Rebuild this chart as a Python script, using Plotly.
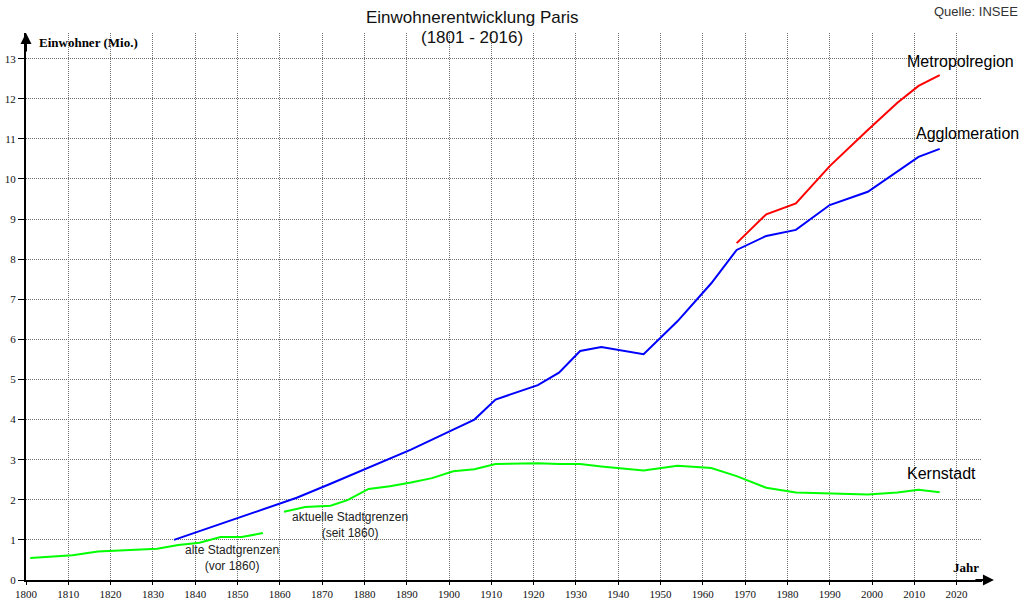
import plotly.graph_objects as go

# Kernstadt (alte Stadtgrenzen, vor 1860)
k_old_years = [1801, 1806, 1811, 1817, 1821, 1826, 1831, 1836, 1841, 1846, 1851, 1856]
k_old_vals = [0.55, 0.58, 0.62, 0.71, 0.73, 0.76, 0.78, 0.87, 0.93, 1.07, 1.07, 1.17]

# Kernstadt (aktuelle Stadtgrenzen, seit 1860)
k_new_years = [1861, 1866, 1872, 1876, 1881, 1886, 1891, 1896, 1901, 1906, 1911, 1921,
               1926, 1931, 1936, 1946, 1954, 1962, 1968, 1975, 1982, 1990, 1999, 2006,
               2011, 2016]
k_new_vals = [1.70, 1.82, 1.85, 1.99, 2.27, 2.34, 2.43, 2.54, 2.71, 2.76, 2.89, 2.91,
              2.89, 2.89, 2.83, 2.73, 2.85, 2.79, 2.59, 2.30, 2.18, 2.15, 2.13, 2.18,
              2.25, 2.19]

# Agglomeration
a_years = [1835, 1851, 1864, 1872, 1881, 1891, 1901, 1906, 1911, 1921, 1926, 1931, 1936,
           1946, 1954, 1962, 1968, 1975, 1982, 1990, 1999, 2006, 2011, 2016]
a_vals = [1.00, 1.57, 2.05, 2.40, 2.80, 3.25, 3.75, 4.00, 4.50, 4.86, 5.17, 5.71, 5.81,
          5.63, 6.45, 7.40, 8.23, 8.58, 8.73, 9.35, 9.68, 10.20, 10.55, 10.75]

# Metropolregion
m_years = [1968, 1975, 1982, 1990, 1999, 2006, 2011, 2016]
m_vals = [8.40, 9.12, 9.39, 10.32, 11.22, 11.90, 12.32, 12.59]

x_ticks = list(range(1800, 2021, 10))
y_ticks = list(range(0, 14))

fig = go.Figure()
for xs, ys, col, name in [
    (k_old_years, k_old_vals, "#00FF00", "Kernstadt (alt)"),
    (k_new_years, k_new_vals, "#00FF00", "Kernstadt"),
    (a_years, a_vals, "#0000FF", "Agglomeration"),
    (m_years, m_vals, "#FF0000", "Metropolregion"),
]:
    fig.add_trace(go.Scatter(x=xs, y=ys, mode="lines", name=name,
                             line=dict(color=col, width=2), hoverinfo="x+y"))

serif = "Liberation Serif, Times New Roman, serif"
sans = "Liberation Sans, Arial, sans-serif"

fig.update_layout(
    width=1024, height=613,
    margin=dict(l=26, r=42, t=33, b=33),
    paper_bgcolor="white", plot_bgcolor="white",
    showlegend=False,
    xaxis=dict(range=[1800, 2026], tickvals=x_ticks, ticktext=[str(v) for v in x_ticks],
               showgrid=True, gridcolor="#707070", griddash="1px,1px", gridwidth=1,
               showline=True, linecolor="black", linewidth=2,
               ticks="outside", ticklen=3, tickcolor="black",
               tickfont=dict(family=serif, size=11, color="#111"),
               zeroline=False, fixedrange=True, automargin=False),
    yaxis=dict(range=[0, 13.64], tickvals=y_ticks, ticktext=[str(v) for v in y_ticks],
               showgrid=True, gridcolor="#707070", griddash="1px,1px", gridwidth=1,
               showline=True, linecolor="black", linewidth=2,
               ticks="outside", ticklen=6, tickcolor="black",
               tickfont=dict(family=serif, size=11, color="#111"),
               zeroline=False, fixedrange=True, automargin=False),
)

ann = []
# axis arrows
ann.append(dict(xref="paper", yref="paper", x=1.0125, y=0, ax=-20, ay=0,
                showarrow=True, arrowhead=2, arrowsize=1.1, arrowwidth=2,
                arrowcolor="black", text=""))
ann.append(dict(xref="paper", yref="paper", x=0, y=1.0, ax=0, ay=20,
                showarrow=True, arrowhead=2, arrowsize=1.1, arrowwidth=2,
                arrowcolor="black", text=""))
# titles
ann.append(dict(xref="paper", yref="paper", x=(472 - 26) / 956, y=1 + (33 - 17) / 547,
                text="Einwohnerentwicklung Paris", showarrow=False,
                font=dict(family=sans, size=17, color="#111"), xanchor="center", yanchor="middle"))
ann.append(dict(xref="paper", yref="paper", x=(472 - 26) / 956, y=1 + (33 - 38) / 547,
                text="(1801 - 2016)", showarrow=False,
                font=dict(family=sans, size=17, color="#111"), xanchor="center", yanchor="middle"))
ann.append(dict(xref="paper", yref="paper", x=(1020 - 26) / 956, y=1 + (33 - 12) / 547,
                text="Quelle: INSEE", showarrow=False,
                font=dict(family=sans, size=13, color="#333"), xanchor="right", yanchor="middle"))
ann.append(dict(xref="paper", yref="paper", x=(37 - 26) / 956, y=1 + (33 - 42) / 547,
                text="<b>Einwohner (Mio.)</b>", showarrow=False,
                font=dict(family=serif, size=13, color="black"), xanchor="left", yanchor="middle"))
ann.append(dict(xref="paper", yref="paper", x=(981 - 26) / 956, y=(580 - 567) / 547,
                text="<b>Jahr</b>", showarrow=False,
                font=dict(family=serif, size=13, color="black"), xanchor="right", yanchor="middle"))
# series labels
for txt, xpx, ypx in [("Metropolregion", 960, 61), ("Agglomeration", 967, 133), ("Kernstadt", 941, 473)]:
    ann.append(dict(xref="paper", yref="paper", x=(xpx - 26) / 956, y=(580 - ypx) / 547,
                    text=txt, showarrow=False, font=dict(family=sans, size=16, color="black"),
                    xanchor="center", yanchor="middle"))
ann.append(dict(xref="paper", yref="paper", x=(232 - 26) / 956, y=(580 - 558) / 547,
                text="alte Stadtgrenzen<br>(vor 1860)", showarrow=False,
                font=dict(family=sans, size=12, color="#222"), xanchor="center", yanchor="middle"))
ann.append(dict(xref="paper", yref="paper", x=(350 - 26) / 956, y=(580 - 525) / 547,
                text="aktuelle Stadtgrenzen<br>(seit 1860)", showarrow=False,
                font=dict(family=sans, size=12, color="#222"), xanchor="center", yanchor="middle"))
fig.update_layout(annotations=ann)

fig.write_html("out.html", config={"displayModeBar": False},
               post_script="document.body.style.margin='0';document.body.style.overflow='hidden';")
